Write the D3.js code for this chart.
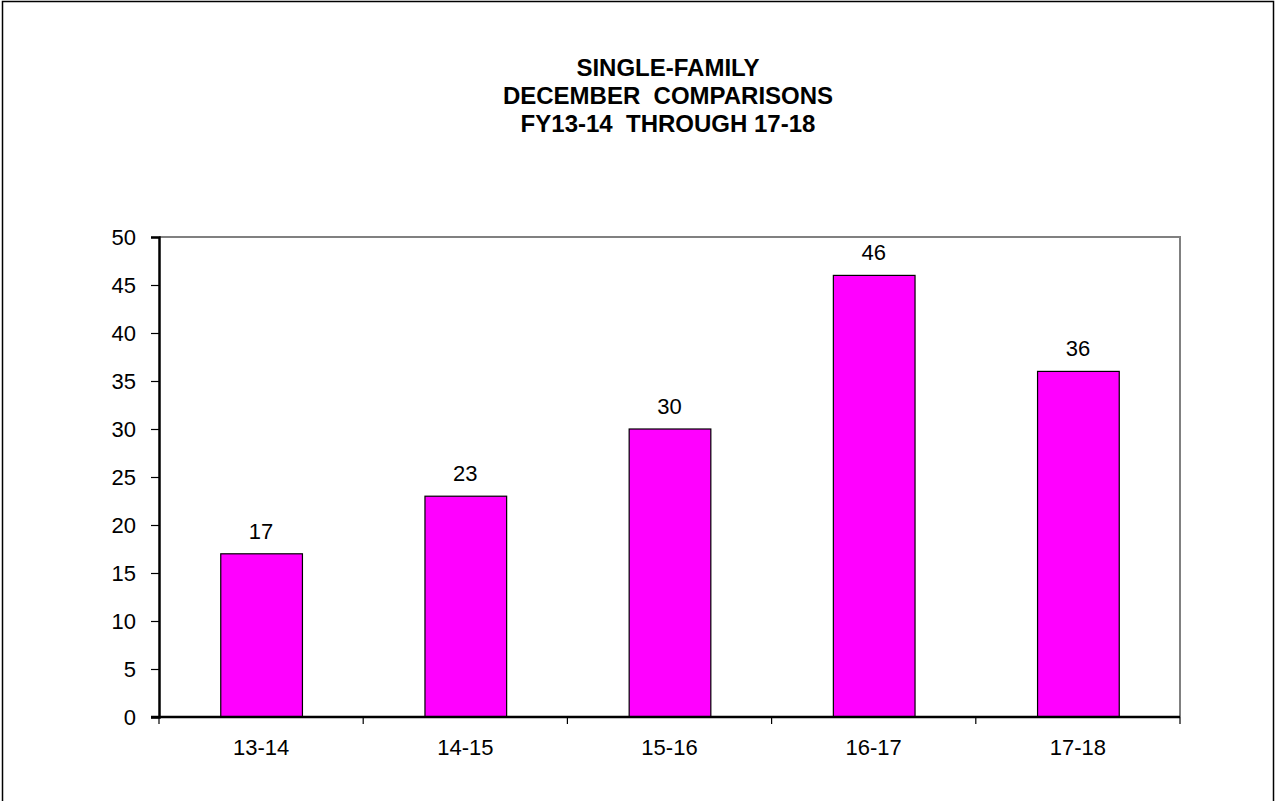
<!DOCTYPE html>
<html><head><meta charset="utf-8">
<script src="https://cdn.jsdelivr.net/npm/d3@7"></script>
<style>body{margin:0;background:#fff;} svg{display:block;}</style>
</head><body>
<svg id="c" width="1275" height="801"></svg>
<script>
const categories = ["13-14","14-15","15-16","16-17","17-18"];
const values = [17,23,30,46,36];
const yTicks = [0,5,10,15,20,25,30,35,40,45,50];
const titleLines = ["SINGLE-FAMILY","DECEMBER  COMPARISONS","FY13-14  THROUGH 17-18"];

const svg = d3.select("#c");
const font = "Liberation Sans, Arial, sans-serif";
const m = {left:159, right:1180, top:237, bottom:717};

svg.append("rect").attr("x",2.5).attr("y",1.5).attr("width",1271).attr("height",805)
  .attr("fill","none").attr("stroke","#000").attr("stroke-width",1.5);

const x = d3.scaleBand().domain(categories).range([m.left,m.right]).paddingInner(0.6).paddingOuter(0.3);
const xb = d3.scaleBand().domain(categories).range([m.left,m.right]);
const y = d3.scaleLinear().domain([0,50]).range([m.bottom,m.top]);

// plot border (gray top/right)
svg.append("path").attr("d",`M${m.left},${m.top}H${m.right}V${m.bottom}`)
  .attr("fill","none").attr("stroke","#808080").attr("stroke-width",2);

// bars
svg.selectAll("rect.bar").data(values).enter().append("rect")
  .attr("x",(d,i)=>x(categories[i])+0.5)
  .attr("y",d=>y(d))
  .attr("width",x.bandwidth())
  .attr("height",d=>y(0)-y(d))
  .attr("fill","#ff00ff").attr("stroke","#000").attr("stroke-width",1.2);

// value labels
svg.selectAll("text.val").data(values).enter().append("text")
  .attr("x",(d,i)=>x(categories[i])+x.bandwidth()/2)
  .attr("y",d=>y(d)-15)
  .attr("text-anchor","middle").attr("font-family",font).attr("font-size",22)
  .text(d=>d);

// y axis
const yAxis = svg.append("g").attr("transform",`translate(${m.left},0)`)
  .call(d3.axisLeft(y).tickValues(yTicks).tickSize(8).tickPadding(15));
yAxis.select(".domain").attr("stroke","#000").attr("stroke-width",2.5);
yAxis.selectAll(".tick line").attr("stroke","#000").attr("stroke-width",1.2);
yAxis.selectAll("text").attr("font-family",font).attr("font-size",22).attr("fill","#000");

// x axis
const xAxis = svg.append("g").attr("transform",`translate(0,${m.bottom})`)
  .call(d3.axisBottom(xb).tickSize(0).tickPadding(22));
xAxis.select(".domain").remove();
xAxis.selectAll("text").attr("font-family",font).attr("font-size",22).attr("fill","#000");
svg.append("line").attr("x1",m.left-8).attr("x2",m.right).attr("y1",m.bottom).attr("y2",m.bottom)
  .attr("stroke","#000").attr("stroke-width",2.5);
const bounds = categories.map(c=>xb(c)).concat([m.right]);
svg.selectAll("line.xt").data(bounds).enter().append("line")
  .attr("x1",d=>d).attr("x2",d=>d).attr("y1",m.bottom).attr("y2",m.bottom+7)
  .attr("stroke","#000").attr("stroke-width",1.2);

// title
svg.selectAll("text.title").data(titleLines).enter().append("text")
  .attr("x",668).attr("y",(d,i)=>76+i*28)
  .attr("text-anchor","middle").attr("font-family",font).attr("font-weight","bold").attr("font-size",24)
  .attr("xml:space","preserve").style("white-space","pre")
  .text(d=>d);
</script>
</body></html>
